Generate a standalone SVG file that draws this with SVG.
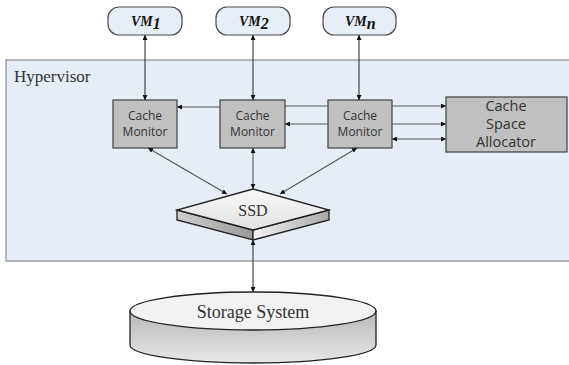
<svg xmlns="http://www.w3.org/2000/svg" width="569" height="365" viewBox="0 0 569 365">
<style>
.vm rect{fill:#e8eef8;stroke:#4a4a4a;stroke-width:1.2}
.vmt{font-family:"Liberation Serif",serif;font-weight:bold;font-style:italic;font-size:14px;fill:#111}
.cm rect{fill:#c0c0c0;stroke:#404040;stroke-width:1.2}
.cmt{font-family:"Open Sans","DejaVu Sans",sans-serif;font-size:12px;fill:#333;text-anchor:middle}
.al{font-family:"Open Sans","DejaVu Sans",sans-serif;font-size:14.5px;fill:#333;text-anchor:middle}
.ser{font-family:"Liberation Serif",serif;fill:#333}
.c line{stroke:#333;stroke-width:1.1}
.c line.g{stroke:#555}
</style>
<defs>
<marker id="ah" viewBox="0 0 10 10" refX="10" refY="5" markerWidth="5" markerHeight="5" orient="auto-start-reverse" markerUnits="userSpaceOnUse">
<path d="M0,0 L10,5 L0,10 z" fill="#111"/>
</marker>
<linearGradient id="ssdTop" x1="0" y1="0" x2="0" y2="1">
<stop offset="0" stop-color="#f8f8f8"/><stop offset="1" stop-color="#e2e2e2"/>
</linearGradient>
<linearGradient id="ssdL" x1="0" y1="0" x2="1" y2="0">
<stop offset="0" stop-color="#cfcfcf"/><stop offset="1" stop-color="#9a9a9a"/>
</linearGradient>
<linearGradient id="ssdR" x1="0" y1="0" x2="1" y2="0">
<stop offset="0" stop-color="#f4f4f4"/><stop offset="1" stop-color="#a8a8a8"/>
</linearGradient>
<linearGradient id="cylB" x1="0" y1="0" x2="0" y2="1">
<stop offset="0" stop-color="#b8b8b8"/><stop offset="1" stop-color="#e8e8e8"/>
</linearGradient>
</defs>
<rect width="569" height="365" fill="#fff"/>
<g id="hypervisor">
<rect x="6" y="60" width="570" height="201" fill="#e7edf7" stroke="#8a8a8a" stroke-width="1.2"/>
<text x="14" y="82" class="ser" font-size="17" fill="#222">Hypervisor</text>
</g>
<g id="vm1" class="vm"><rect x="108" y="7" width="74" height="28" rx="11"/><text x="131" y="26" class="vmt">VM<tspan font-size="16" dy="3">1</tspan></text></g>
<g id="vm2" class="vm"><rect x="216" y="7" width="74" height="28" rx="11"/><text x="239" y="26" class="vmt">VM<tspan font-size="16" dy="3">2</tspan></text></g>
<g id="vmn" class="vm"><rect x="323" y="7" width="73" height="28" rx="11"/><text x="345" y="26" class="vmt">VM<tspan font-size="16" dy="3">n</tspan></text></g>
<g id="cm1" class="cm"><rect x="113" y="100" width="64" height="48"/><text x="145" y="119.5" class="cmt">Cache</text><text x="145" y="136" class="cmt">Monitor</text></g>
<g id="cm2" class="cm"><rect x="220" y="100" width="65" height="48"/><text x="252.5" y="119.5" class="cmt">Cache</text><text x="252.5" y="136" class="cmt">Monitor</text></g>
<g id="cm3" class="cm"><rect x="328" y="100" width="64" height="48"/><text x="360" y="119.5" class="cmt">Cache</text><text x="360" y="136" class="cmt">Monitor</text></g>
<g id="allocator" class="cm"><rect x="446" y="97" width="121" height="55"/><text x="506" y="111" class="al">Cache</text><text x="506" y="129" class="al">Space</text><text x="506" y="147" class="al">Allocator</text></g>
<g id="ssd">
<polygon points="177,210 253,230 253,240 177,220" fill="url(#ssdL)" stroke="#222" stroke-width="1.3"/>
<polygon points="253,230 329,210 329,220 253,240" fill="url(#ssdR)" stroke="#222" stroke-width="1.3"/>
<polygon points="253,189 329,210 253,230 177,210" fill="url(#ssdTop)" stroke="#222" stroke-width="1.3"/>
<text x="253" y="216" class="ser" font-size="16" text-anchor="middle">SSD</text>
</g>
<g id="storage">
<path d="M130,311 L130,345 A123,18 0 0 0 376,345 L376,311 Z" fill="url(#cylB)" stroke="#222" stroke-width="1.3"/>
<ellipse cx="253" cy="311" rx="123" ry="19" fill="#f2f2f2" stroke="#222" stroke-width="1.3"/>
<text x="253" y="318" class="ser" font-size="18" text-anchor="middle">Storage System</text>
</g>
<g id="connectors" class="c">
<line x1="145" y1="35" x2="145" y2="100" marker-start="url(#ah)" marker-end="url(#ah)"/>
<line x1="253" y1="35" x2="253" y2="100" marker-start="url(#ah)" marker-end="url(#ah)"/>
<line x1="359" y1="35" x2="359" y2="100" marker-start="url(#ah)" marker-end="url(#ah)"/>
<line class="g" x1="220" y1="107" x2="177" y2="107" marker-end="url(#ah)"/>
<line class="g" x1="328" y1="106" x2="285" y2="106"/>
<line class="g" x1="328" y1="124" x2="285" y2="124" marker-end="url(#ah)"/>
<line class="g" x1="392" y1="106" x2="446" y2="106" marker-end="url(#ah)"/>
<line class="g" x1="392" y1="124" x2="446" y2="124" marker-end="url(#ah)"/>
<line class="g" x1="392" y1="139" x2="446" y2="139" marker-start="url(#ah)" marker-end="url(#ah)"/>
<line class="g" x1="148" y1="148" x2="227" y2="194" marker-start="url(#ah)" marker-end="url(#ah)"/>
<line class="g" x1="253" y1="148" x2="253" y2="189" marker-start="url(#ah)" marker-end="url(#ah)"/>
<line class="g" x1="357" y1="148" x2="280" y2="194" marker-start="url(#ah)" marker-end="url(#ah)"/>
<line x1="253" y1="240" x2="253" y2="292" marker-start="url(#ah)" marker-end="url(#ah)"/>
</g>
</svg>
